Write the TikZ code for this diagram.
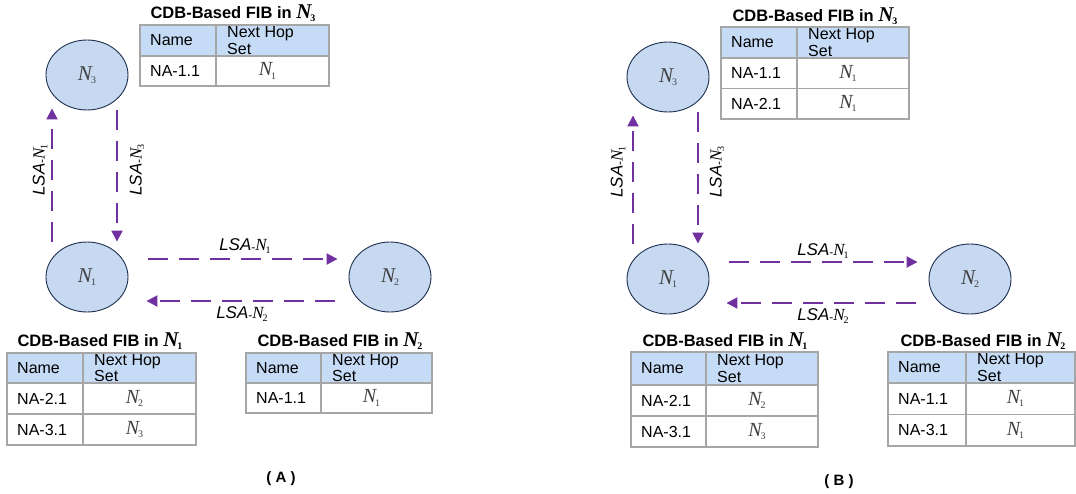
\documentclass[tikz,border=0pt]{standalone}
\usepackage{fontspec}
\setmainfont{Liberation Sans}
\newfontfamily\tms{Liberation Serif}
\usetikzlibrary{shapes.geometric,arrows.meta}

\definecolor{nodefill}{HTML}{C6D9F1}
\definecolor{nodeline}{HTML}{1F3050}
\definecolor{hdrfill}{HTML}{C5DBF6}
\definecolor{gridgray}{HTML}{A6A6A6}
\definecolor{lsapurple}{HTML}{7030A0}
\definecolor{symgray}{HTML}{404040}

% italic N with a small upright index
\newcommand{\Nsub}[2][10]{{\tms\itshape N}\kern-1pt\raisebox{-0.3ex}{\tms\fontsize{#1}{#1}\selectfont #2}}
% bold variant used in the table titles
\newcommand{\NsubB}[1]{{\tms\bfseries\itshape\fontsize{21}{21}\selectfont N}\kern-1pt\raisebox{-0.3ex}{\tms\bfseries\fontsize{10}{10}\selectfont #1}}
% link-state advertisement label
\newcommand{\lsatext}[1]{\textit{LSA}\raisebox{-1pt}{\fontsize{12}{12}\selectfont -}{\tms\itshape N}\kern-1pt\raisebox{-0.3ex}{\tms\fontsize{10}{10}\selectfont #1}}

\tikzset{
  router/.style={ellipse, draw=nodeline, line width=0.9pt, fill=nodefill,
    minimum width=82pt, minimum height=70pt, inner sep=0pt,
    font=\fontsize{21}{21}\selectfont, text=symgray},
  lsa/.style={lsapurple, line width=2pt, dash pattern=on 20pt off 11pt,
    -{Triangle[length=11pt,width=11pt]}},
  lsalabel/.style={font=\fontsize{17}{17}\selectfont, inner sep=0pt},
  fibtitle/.style={font=\fontsize{16.5}{17}\selectfont\bfseries, inner sep=0pt},
  cell/.style={font=\fontsize{16}{16.5}\selectfont, inner sep=0pt, anchor=west, align=left},
  hopcell/.style={font=\fontsize{20}{20}\selectfont, inner sep=0pt, text=symgray},
  gridline/.style={draw=gridgray, line width=1.2pt},
  caption/.style={font=\fontsize{15}{15}\selectfont\bfseries, inner sep=0pt}
}

% FIB table: #1 name, #2 left, #3 column split, #4 right, #5 top,
% #6 header height, #7 row height, #8 number of rows, #9 rows (name/hop)
\newcommand{\fibtable}[9]{%
  \fill[hdrfill] (#2,#5) rectangle (#4,{#5+#6});
  \node[cell] (#1-hname) at ({#2+10},{#5+#6/2}) {Name};
  \node[cell] (#1-hhop) at ({#3+11},{#5+#6/2}) {Next Hop\\Set};
  \foreach \nm/\hop [count=\r] in {#9}{
    \node[cell] (#1-name\r) at ({#2+10},{#5+#6+(\r-0.5)*#7}) {\nm};
    \node[hopcell] (#1-hop\r) at ({(#3+#4)/2-5},{#5+#6+(\r-0.5)*#7}) {\hop};
  }
  \foreach \k in {0,...,#8}{
    \draw[gridline] (#2,{#5+#6+\k*#7}) -- (#4,{#5+#6+\k*#7});
  }
  \draw[gridline] (#2,#5) rectangle (#4,{#5+#6+#8*#7});
  \draw[gridline] (#3,#5) -- (#3,{#5+#6+#8*#7});
}

\begin{document}
\begin{tikzpicture}[x=1pt,y=-1pt]
  \useasboundingbox (0,0) rectangle (1076,493);
  \fill[white] (0,0) rectangle (1076,493);

  % ---------- scenario (A) ----------
  \node[router] (A3) at (87,75) {\Nsub{3}};
  \node[router] (A1) at (87,277) {\Nsub{1}};
  \node[router] (A2) at (390,277) {\Nsub{2}};

  \draw[lsa] ([xshift=-35pt]A1.north) -- ([xshift=-35pt,yshift=2pt]A3.south);
  \draw[lsa] ([xshift=30pt]A3.south) -- ([xshift=30pt]A1.north);
  \draw[lsa] ([xshift=20pt,yshift=18pt]A1.east) -- ([xshift=-11pt,yshift=18pt]A2.west);
  \draw[lsa] ([xshift=-14pt,yshift=-24pt]A2.west) -- ([xshift=18pt,yshift=-24pt]A1.east);

  \node[lsalabel, rotate=90] (lA13) at (40,170) {\lsatext{1}};
  \node[lsalabel, rotate=90] (lA31) at (137,170) {\lsatext{3}};
  \node[lsalabel] (lA12) at (245,246) {\lsatext{1}};
  \node[lsalabel] (lA21) at (242,314) {\lsatext{2}};

  \node[fibtitle] (tA3) at (233,13) {CDB-Based FIB in \NsubB{3}};
  \fibtable{fA3}{140}{216}{329}{25}{31}{30}{1}{NA-1.1/\Nsub{1}}

  \node[fibtitle] (tA1) at (100,341) {CDB-Based FIB in \NsubB{1}};
  \fibtable{fA1}{7}{83}{196}{353}{30}{31}{2}{NA-2.1/\Nsub{2},NA-3.1/\Nsub{3}}

  \node[fibtitle] (tA2) at (340,341) {CDB-Based FIB in \NsubB{2}};
  \fibtable{fA2}{246}{321}{432}{353}{30}{30}{1}{NA-1.1/\Nsub{1}}

  \node[caption] (capA) at (281,479) {( A )};

  % ---------- scenario (B) ----------
  \node[router] (B3) at (668,77) {\Nsub{3}};
  \node[router] (B1) at (668,279) {\Nsub{1}};
  \node[router] (B2) at (970,279) {\Nsub{2}};

  \draw[lsa] ([xshift=-35pt]B1.north) -- ([xshift=-35pt,yshift=-3pt]B3.south);
  \draw[lsa] ([xshift=30pt]B3.south) -- ([xshift=30pt]B1.north);
  \draw[lsa] ([xshift=20pt,yshift=17pt]B1.east) -- ([xshift=-11pt,yshift=17pt]B2.west);
  \draw[lsa] ([xshift=-13pt,yshift=-24pt]B2.west) -- ([xshift=17pt,yshift=-24pt]B1.east);

  \node[lsalabel, rotate=90] (lB13) at (618,172) {\lsatext{1}};
  \node[lsalabel, rotate=90] (lB31) at (717,172) {\lsatext{3}};
  \node[lsalabel] (lB12) at (823,251) {\lsatext{1}};
  \node[lsalabel] (lB21) at (823,316) {\lsatext{2}};

  \node[fibtitle] (tB3) at (815,16) {CDB-Based FIB in \NsubB{3}};
  \fibtable{fB3}{721}{797}{909}{27}{31}{30.5}{2}{NA-1.1/\Nsub{1},NA-2.1/\Nsub{1}}

  \node[fibtitle] (tB1) at (725,341) {CDB-Based FIB in \NsubB{1}};
  \fibtable{fB1}{631}{706}{818}{352}{33}{31}{2}{NA-2.1/\Nsub{2},NA-3.1/\Nsub{3}}

  \node[fibtitle] (tB2) at (983,341) {CDB-Based FIB in \NsubB{2}};
  \fibtable{fB2}{888}{966}{1075}{352}{31}{31.5}{2}{NA-1.1/\Nsub{1},NA-3.1/\Nsub{1}}

  \node[caption] (capB) at (839,482) {( B )};
\end{tikzpicture}
\end{document}
